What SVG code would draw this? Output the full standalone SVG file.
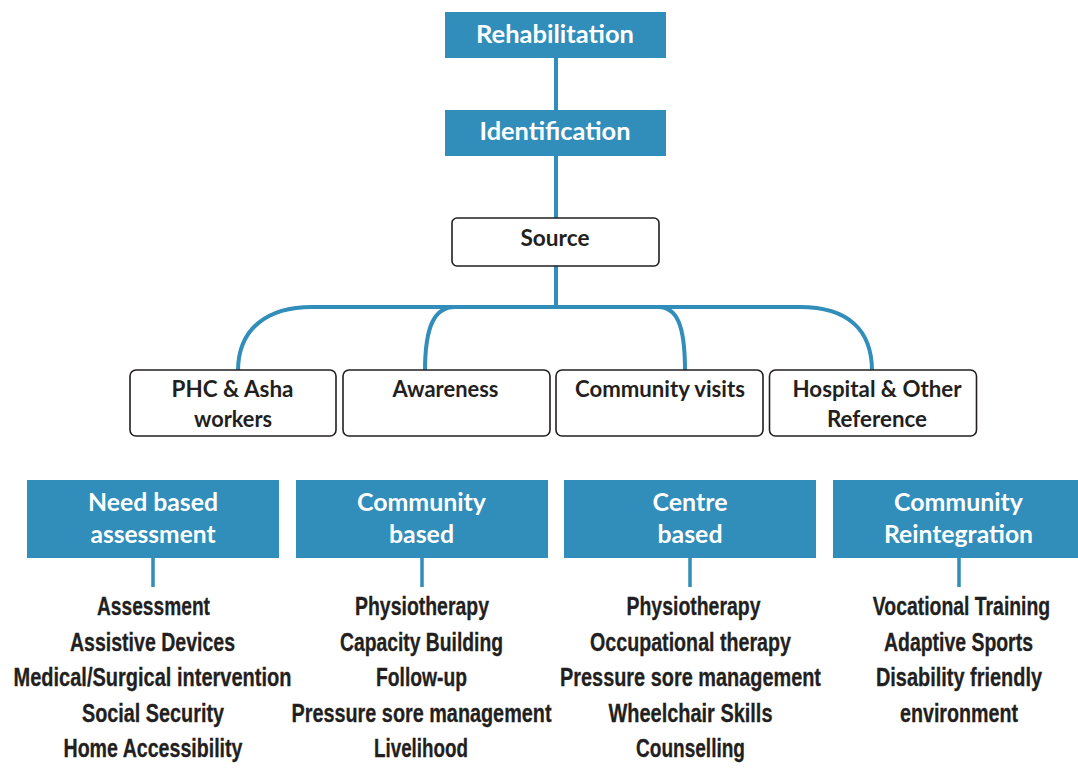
<svg xmlns="http://www.w3.org/2000/svg" width="1078" height="770" viewBox="0 0 1078 770">
<style>
  .hdr { fill: #318db9; }
  .wbox { fill: #ffffff; stroke: #231f20; stroke-width: 1.6; }
  .link { fill: none; stroke: #318db9; stroke-width: 4; }
  .stub { fill: none; stroke: #318db9; stroke-width: 3.5; }
  .wt { font-family: Lato, "Open Sans", sans-serif; font-weight: 700; fill: #ffffff; text-anchor: middle; }
  .dt { font-family: Lato, "Open Sans", sans-serif; font-weight: 700; fill: #231f20; text-anchor: middle; font-size: 22px; }
  .it { font-family: "Liberation Sans", Arial, sans-serif; font-weight: 700; fill: #231f20; stroke: #231f20; stroke-width: 0.3; text-anchor: middle; font-size: 25px; }
</style>
<rect width="1078" height="770" fill="#ffffff"/>

<g id="connectors">
  <line class="link" x1="556" y1="56" x2="556" y2="112"/>
  <line class="link" x1="556" y1="154" x2="556" y2="220"/>
  <line class="link" x1="556" y1="264" x2="556" y2="307"/>
  <path class="link" d="M238,371 C238,328 268,307 312,307 L800,307"/>
  <path class="link" d="M425,371 C425,325 435,307 455,307"/>
  <path class="link" d="M685,371 C685,325 677,307 658,307"/>
  <path class="link" d="M872,371 C872,330 848,307 800,307"/>
  <line class="stub" x1="153" y1="556" x2="153" y2="587"/>
  <line class="stub" x1="422" y1="556" x2="422" y2="587"/>
  <line class="stub" x1="690" y1="556" x2="690" y2="587"/>
  <line class="stub" x1="959" y1="556" x2="959" y2="587"/>
</g>

<g id="rehabilitation">
  <rect class="hdr" x="445" y="12" width="221" height="46"/>
  <text class="wt" x="555" y="43" font-size="24" textLength="158" lengthAdjust="spacingAndGlyphs">Rehabilitation</text>
</g>
<g id="identification">
  <rect class="hdr" x="445" y="110" width="221" height="46"/>
  <text class="wt" x="555" y="140" font-size="24" textLength="151" lengthAdjust="spacingAndGlyphs">Identification</text>
</g>
<g id="source">
  <rect class="wbox" x="452" y="218" width="207" height="48" rx="5"/>
  <text class="dt" x="555" y="246" textLength="69" lengthAdjust="spacingAndGlyphs">Source</text>
</g>

<g id="phc">
  <rect class="wbox" x="130" y="370" width="206" height="66" rx="6"/>
  <text class="dt" x="232.5" y="397" textLength="122" lengthAdjust="spacingAndGlyphs">PHC &amp; Asha</text>
  <text class="dt" x="233" y="427" textLength="78" lengthAdjust="spacingAndGlyphs">workers</text>
</g>
<g id="awareness">
  <rect class="wbox" x="343" y="370" width="207" height="66" rx="6"/>
  <text class="dt" x="445.5" y="397" textLength="106" lengthAdjust="spacingAndGlyphs">Awareness</text>
</g>
<g id="community-visits">
  <rect class="wbox" x="556" y="370" width="207" height="66" rx="6"/>
  <text class="dt" x="660" y="397" textLength="170" lengthAdjust="spacingAndGlyphs">Community visits</text>
</g>
<g id="hospital">
  <rect class="wbox" x="769.5" y="370" width="207" height="66" rx="6"/>
  <text class="dt" x="877" y="397" textLength="169" lengthAdjust="spacingAndGlyphs">Hospital &amp; Other</text>
  <text class="dt" x="877" y="427" textLength="100" lengthAdjust="spacingAndGlyphs">Reference</text>
</g>

<g id="need-based">
  <rect class="hdr" x="27" y="480" width="252" height="78"/>
  <text class="wt" x="153" y="511" font-size="24" textLength="130" lengthAdjust="spacingAndGlyphs">Need based</text>
  <text class="wt" x="153" y="543" font-size="24" textLength="125" lengthAdjust="spacingAndGlyphs">assessment</text>
  <text class="it" x="153.5" y="615" textLength="113" lengthAdjust="spacingAndGlyphs">Assessment</text>
  <text class="it" x="152.5" y="650.5" textLength="165" lengthAdjust="spacingAndGlyphs">Assistive Devices</text>
  <text class="it" x="152.5" y="686" textLength="278" lengthAdjust="spacingAndGlyphs">Medical/Surgical intervention</text>
  <text class="it" x="153" y="721.5" textLength="142" lengthAdjust="spacingAndGlyphs">Social Security</text>
  <text class="it" x="153" y="757" textLength="179" lengthAdjust="spacingAndGlyphs">Home Accessibility</text>
</g>

<g id="community-based">
  <rect class="hdr" x="296" y="480" width="252" height="78"/>
  <text class="wt" x="421.5" y="511" font-size="24" textLength="129" lengthAdjust="spacingAndGlyphs">Community</text>
  <text class="wt" x="421.5" y="543" font-size="24" textLength="65" lengthAdjust="spacingAndGlyphs">based</text>
  <text class="it" x="422" y="615" textLength="134" lengthAdjust="spacingAndGlyphs">Physiotherapy</text>
  <text class="it" x="421.5" y="650.5" textLength="163" lengthAdjust="spacingAndGlyphs">Capacity Building</text>
  <text class="it" x="421.5" y="686" textLength="91" lengthAdjust="spacingAndGlyphs">Follow-up</text>
  <text class="it" x="421.5" y="721.5" textLength="260" lengthAdjust="spacingAndGlyphs">Pressure sore management</text>
  <text class="it" x="421" y="757" textLength="94" lengthAdjust="spacingAndGlyphs">Livelihood</text>
</g>

<g id="centre-based">
  <rect class="hdr" x="564" y="480" width="252" height="78"/>
  <text class="wt" x="690" y="511" font-size="24" textLength="75" lengthAdjust="spacingAndGlyphs">Centre</text>
  <text class="wt" x="690" y="543" font-size="24" textLength="65" lengthAdjust="spacingAndGlyphs">based</text>
  <text class="it" x="693.5" y="615" textLength="134" lengthAdjust="spacingAndGlyphs">Physiotherapy</text>
  <text class="it" x="690.5" y="650.5" textLength="201" lengthAdjust="spacingAndGlyphs">Occupational therapy</text>
  <text class="it" x="690.5" y="686" textLength="261" lengthAdjust="spacingAndGlyphs">Pressure sore management</text>
  <text class="it" x="690.5" y="721.5" textLength="164" lengthAdjust="spacingAndGlyphs">Wheelchair Skills</text>
  <text class="it" x="690.5" y="757" textLength="109" lengthAdjust="spacingAndGlyphs">Counselling</text>
</g>

<g id="community-reintegration">
  <rect class="hdr" x="833" y="480" width="252" height="78"/>
  <text class="wt" x="958.5" y="511" font-size="24" textLength="129" lengthAdjust="spacingAndGlyphs">Community</text>
  <text class="wt" x="958.5" y="543" font-size="24" textLength="149" lengthAdjust="spacingAndGlyphs">Reintegration</text>
  <text class="it" transform="translate(961.5,615) scale(0.776,1)">Vocational Training</text>
  <text class="it" transform="translate(958.5,650.5) scale(0.777,1)">Adaptive Sports</text>
  <text class="it" transform="translate(959,686) scale(0.798,1)">Disability friendly</text>
  <text class="it" transform="translate(959,721.5) scale(0.787,1)">environment</text>
</g>
</svg>
